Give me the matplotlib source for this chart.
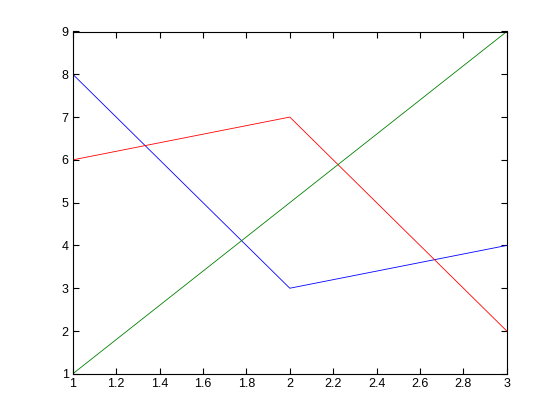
import matplotlib
matplotlib.use('Agg')
import matplotlib.pyplot as plt

x = [1, 2, 3]
y_blue = [8, 3, 4]
y_red = [6, 7, 2]
y_green = [1, 5, 9]

plt.rcParams['font.family'] = 'Liberation Sans'
plt.rcParams['font.size'] = 9

fig = plt.figure(figsize=(5.6, 4.2), dpi=100)
ax = fig.add_axes([0.13, 0.11, 0.775, 0.815])

ax.plot(x, y_blue, color='blue', linewidth=0.6)
ax.plot(x, y_red, color='red', linewidth=0.6)
ax.plot(x, y_green, color='green', linewidth=0.6)

ax.set_xlim(1, 3)
ax.set_ylim(1, 9)
ax.set_xticks([1, 1.2, 1.4, 1.6, 1.8, 2, 2.2, 2.4, 2.6, 2.8, 3])
ax.set_xticklabels(['1', '1.2', '1.4', '1.6', '1.8', '2', '2.2', '2.4', '2.6', '2.8', '3'])
ax.set_yticks(range(1, 10))
ax.tick_params(direction='in', top=True, right=True, length=4, width=0.8, pad=3)
for s in ax.spines.values():
    s.set_linewidth(0.8)

fig.savefig('out.png', dpi=100)
